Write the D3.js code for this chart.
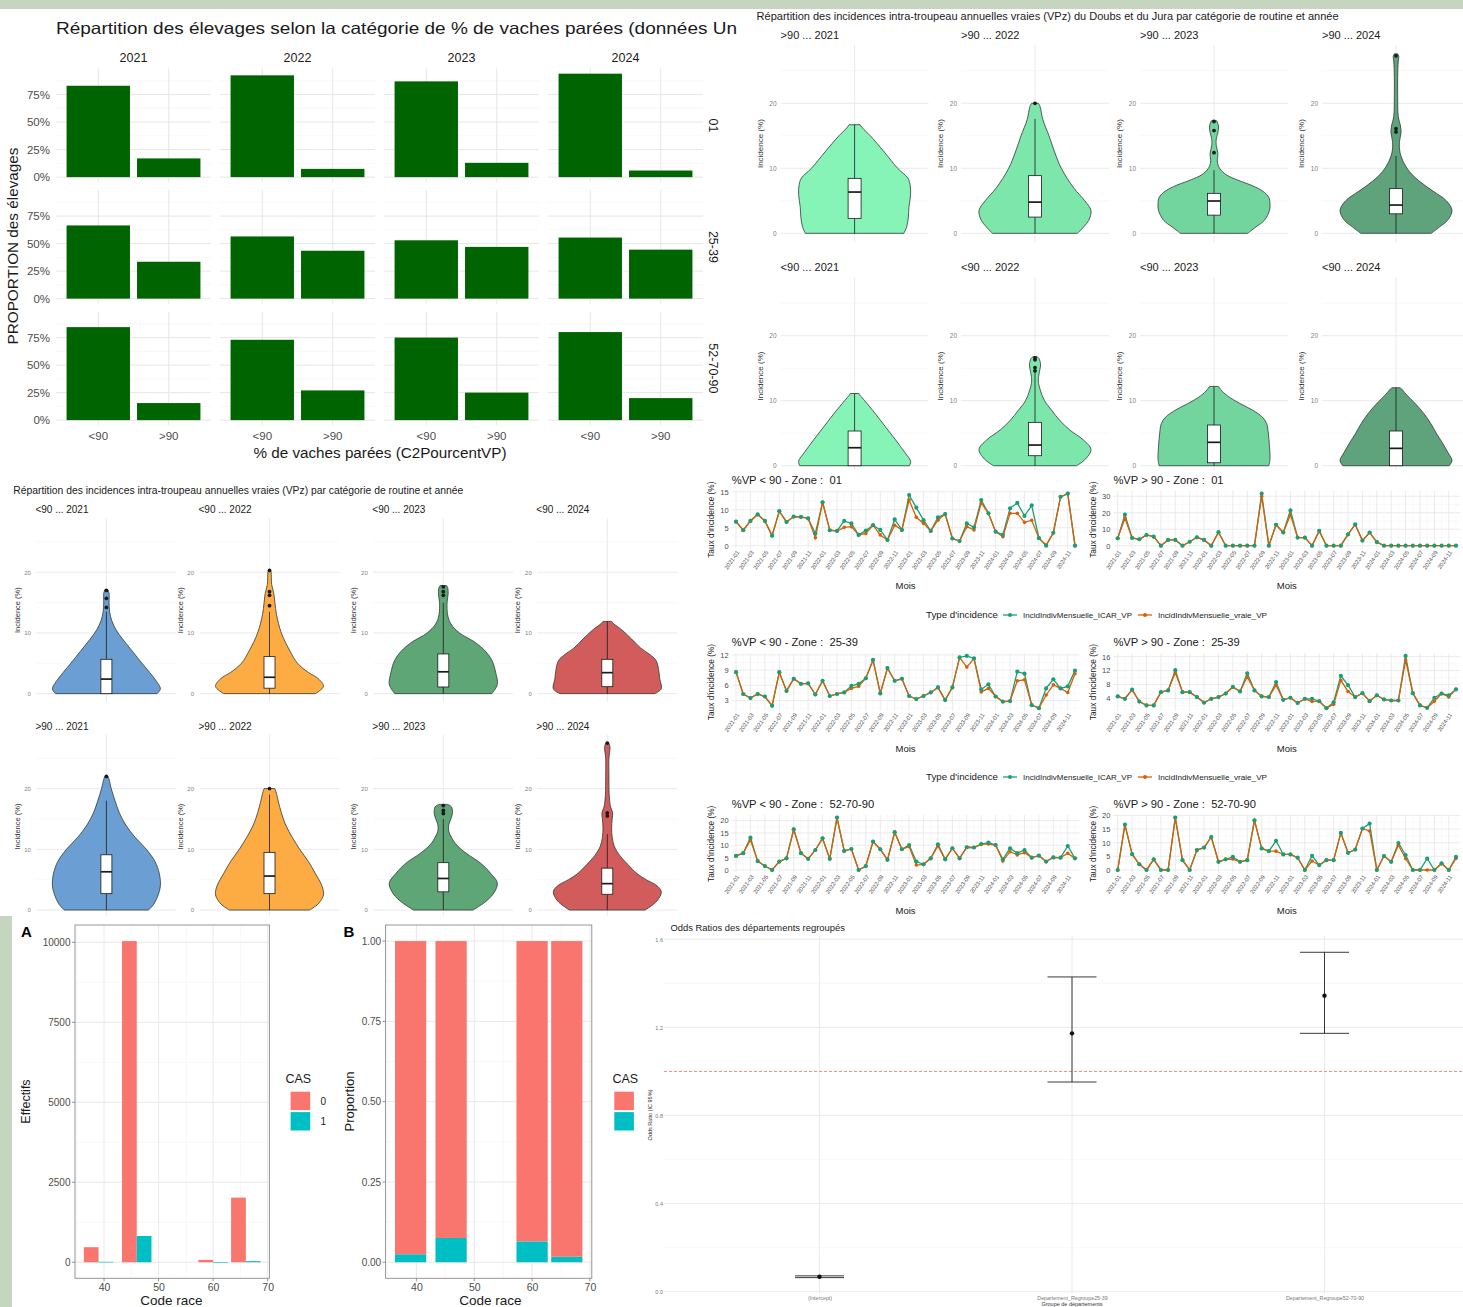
<!DOCTYPE html>
<html><head><meta charset="utf-8">
<script src="https://cdn.jsdelivr.net/npm/d3@7/dist/d3.min.js"></script>
<style>html,body{margin:0;padding:0;background:#fff;overflow:hidden}svg{display:block}text{white-space:pre}</style>
</head><body>
<svg id="c" width="1463" height="1307" xmlns="http://www.w3.org/2000/svg"></svg>
<script>
// ================= DATA =================
// --- Panel 1 : bar facets ---
const p1Title = "Répartition des élevages selon la catégorie de % de vaches parées (données Un";
const p1Years = ["2021","2022","2023","2024"];
const p1Cats = ["<90", ">90"];
const p1Zones = ["01","25-39","52-70-90"];
const p1Lt90_01 = [83, 92.5, 87, 94];
const p1Gt90_01 = [17, 7.5, 13, 6];
const p1Lt90_2539 = [66.5, 56.5, 53, 55.5];
const p1Gt90_2539 = [33.5, 43.5, 47, 44.5];
const p1Lt90_527090 = [84.5, 73, 75, 80];
const p1Gt90_527090 = [15.5, 27, 25, 20];
const p1Ticks = [0, 25, 50, 75];
const p1TickLabels = ["0%","25%","50%","75%"];
const p1Minor = [12.5, 37.5, 62.5, 87.5];

// --- Panel 2 : violins Doubs & Jura ---
const p2Title = "Répartition des incidences intra-troupeau annuelles vraies (VPz) du Doubs et du Jura par catégorie de routine et année";
const violinTicks = [0, 10, 20];
const violinMinor = [5, 15, 25];
// density profiles : [incidence value, relative half width]
const djGt90Dens = [
 [[0,0.88],[1,0.93],[2.5,0.96],[4,0.97],[6,1.0],[7.5,0.99],[8.5,0.95],[10,0.77],[12.5,0.53],[15,0.28],[16.2,0.14],[16.7,0.1]],
 [[0,0.76],[1,0.87],[2,0.96],[3.5,1.0],[5,0.89],[7,0.69],[10,0.47],[12.5,0.35],[15,0.25],[17.5,0.14],[19.5,0.09],[20,0.06]],
 [[0,0.6],[1,0.75],[2,0.9],[3.5,0.99],[4.5,1.0],[5.5,0.98],[6.3,0.9],[7.2,0.72],[8.2,0.42],[9,0.22],[10,0.1],[11,0.06],[12.3,0.07],[13.5,0.04],[14.5,0.04],[15.5,0.07],[16.5,0.08],[17.3,0.05]],
 [[0,0.63],[1,0.78],[2,0.92],[3.5,1.0],[5,0.9],[6.5,0.66],[8,0.42],[9.5,0.24],[11,0.13],[12.5,0.07],[14,0.06],[15.5,0.09],[16.5,0.08],[18,0.04],[21,0.03],[24,0.03],[26.5,0.04],[27.2,0.05],[27.6,0.03]]
];
const djLt90Dens = [
 [[0,0.98],[0.7,1.0],[2,0.9],[4,0.73],[6,0.55],[8,0.37],[10,0.18],[10.8,0.1],[11.1,0.08]],
 [[0,0.74],[1,0.9],[2.5,1.0],[4,0.86],[5.5,0.62],[7,0.44],[8.5,0.3],[10,0.17],[11.5,0.1],[13,0.06],[14.5,0.08],[15.5,0.1],[16.5,0.07],[16.8,0.03]],
 [[0,0.98],[1,1.0],[3,0.99],[5,0.97],[6.5,0.94],[7.5,0.86],[8.5,0.7],[9.5,0.48],[10.5,0.28],[11.5,0.14],[12.2,0.08]],
 [[0,0.95],[0.8,1.0],[2,0.93],[3.5,0.83],[5,0.72],[6.5,0.62],[8,0.5],[9.5,0.35],[11,0.18],[11.8,0.1],[12,0.07]]
];
// box stats : [lower whisker, q1, median, q3, upper whisker]
const djGt90Box = [[0,2.3,6.35,8.46,16.7],[0,2.5,4.8,8.87,17.6],[0,2.8,4.97,6.15,9.7],[0,3.0,4.35,6.87,11.9]];
const djGt90Out = [[],[20],[12.4,15.8,17.2],[15.6,16.1,27.3]];
const djLt90Box = [[0,0,2.77,5.34,11.1],[0,1.54,3.18,6.67,14.5],[0,0.46,3.6,6.26,12.2],[0,0,2.67,5.34,12]];
const djLt90Out = [[],[14.6,15.1,16.3,16.6],[],[]];

// --- Panel 3 : violins by routine ---
const p3Title = "Répartition des incidences intra-troupeau annuelles vraies (VPz) par catégorie de routine et année";
const rtLt90Dens = [
 [[0,0.94],[0.8,1.0],[2,0.93],[3.5,0.8],[5,0.66],[7,0.48],[9,0.3],[10.5,0.18],[12,0.1],[13.5,0.06],[15,0.05],[16.5,0.05],[17.1,0.03]],
 [[0,0.85],[1.2,1.0],[2.5,0.9],[3.5,0.72],[5,0.52],[7,0.38],[10,0.22],[13,0.13],[15,0.1],[16.5,0.08],[18,0.04],[20,0.03],[20.3,0.02]],
 [[0,0.9],[1.5,1.0],[3.5,0.97],[5.5,0.9],[7,0.78],[8.5,0.58],[10,0.3],[11.5,0.14],[13,0.08],[15,0.07],[16.5,0.09],[17.5,0.08],[17.8,0.06]],
 [[0,0.88],[0.8,1.0],[2.5,0.97],[4,0.95],[5.5,0.9],[6.5,0.78],[7.5,0.62],[9,0.45],[10.5,0.27],[11.5,0.12],[11.9,0.08]]
];
const rtGt90Dens = [
 [[0,0.78],[1,0.88],[2.5,0.96],[4,1.0],[6,0.98],[8,0.9],[10,0.74],[12,0.53],[14,0.36],[16,0.24],[18,0.16],[20,0.09],[21.5,0.05],[22,0.03]],
 [[0,0.74],[1,0.9],[2.5,1.0],[4,0.97],[6,0.85],[8,0.72],[10,0.56],[12,0.42],[14,0.3],[16,0.22],[18,0.16],[19.5,0.12],[20,0.1]],
 [[0,0.55],[1.5,0.8],[3,0.95],[4.5,1.0],[6,0.88],[7,0.78],[8,0.65],[9,0.48],[10,0.33],[11,0.22],[12,0.15],[13,0.1],[14,0.1],[15,0.14],[16,0.17],[17,0.15],[17.4,0.08]],
 [[0,0.7],[1.5,0.92],[3,1.0],[4,0.92],[5,0.72],[6,0.55],[7.5,0.38],[9,0.23],[10.5,0.13],[12,0.09],[13.5,0.08],[15,0.09],[16,0.1],[17,0.06],[19,0.035],[22,0.03],[25,0.03],[26.8,0.05],[27.5,0.03]]
];
const rtLt90Box = [[0,0,2.4,5.66,13.5],[0,0.9,2.7,6.1,13.5],[0,1.1,3.6,6.54,15.0],[0,1.15,3.46,5.66,11.9]];
const rtLt90Out = [[14.2,15.7,17.0],[14.5,16.2,16.8,20.3],[16.2,16.8,17.6],[]];
const rtGt90Box = [[0,2.7,6.3,9.1,18],[0,2.7,5.6,9.5,19],[0,3.0,5.2,7.8,15],[0,2.6,4.35,6.9,12.5]];
const rtGt90Out = [[22.0],[20.0],[15.9,16.4,17.2],[15.5,16.0,27.5]];

// --- Panel 4 : monthly incidence lines ---
const months = ["2021-01","2021-02","2021-03","2021-04","2021-05","2021-06","2021-07","2021-08","2021-09","2021-10","2021-11","2021-12",
 "2022-01","2022-02","2022-03","2022-04","2022-05","2022-06","2022-07","2022-08","2022-09","2022-10","2022-11","2022-12",
 "2023-01","2023-02","2023-03","2023-04","2023-05","2023-06","2023-07","2023-08","2023-09","2023-10","2023-11","2023-12",
 "2024-01","2024-02","2024-03","2024-04","2024-05","2024-06","2024-07","2024-08","2024-09","2024-10","2024-11","2024-12"];
const lcTitles = ["%VP < 90 - Zone :  01","%VP > 90 - Zone :  01","%VP < 90 - Zone :  25-39","%VP > 90 - Zone :  25-39","%VP < 90 - Zone :  52-70-90","%VP > 90 - Zone :  52-70-90"];
const lcTicks = [[0,5,10,15],[0,10,20,30],[3,6,9,12],[4,8,12,16],[0,5,10,15,20],[0,5,10,15,20]];
const seriesNames = ["IncidIndivMensuelle_ICAR_VP","IncidIndivMensuelle_vraie_VP"];
const icarLt90_01 = [6.7,4.3,6.9,8.7,6.9,2.8,9.6,6.6,8.1,8.0,7.6,3.4,12.1,4.3,4.1,6.9,6.2,3.0,4.2,5.7,4.4,1.6,7.3,4.4,14.1,10.6,7.1,4.1,7.9,8.8,2.0,1.3,6.2,5.1,12.7,9.0,3.9,3.0,10.4,11.9,8.3,11.2,2.1,0.0,3.6,13.6,14.5,0.0];
const vraieLt90_01 = [6.7,4.3,6.9,8.7,6.9,2.8,9.6,6.6,8.1,8.0,7.6,2.2,12.1,4.3,4.1,5.1,5.3,3.0,3.4,5.7,3.0,1.6,5.7,4.4,12.7,7.9,6.2,4.1,7.1,8.8,2.0,1.3,5.3,4.4,11.9,9.0,3.9,2.5,9.0,9.0,6.5,7.1,2.1,0.2,3.6,13.6,14.5,0.0];
const icarGt90_01 = [4.5,18.8,4.7,3.9,6.5,5.5,0,3.5,3.5,0,2.4,5.1,3.5,0,8.2,0,0,0,0,0,31.6,0,12.7,8.0,21.4,4.9,4.9,0,9.0,0,0,0,6.9,12.9,3.1,8.0,2.2,0,0,0,0,0,0,0,0,0,0,0];
const vraieGt90_01 = [4.5,16.7,4.7,3.9,6.5,5.5,0,3.5,3.5,0,2.4,5.1,3.5,0,8.2,0,0,0,0,0,30.0,0,12.7,8.0,18.8,4.9,4.9,0,9.0,0,0,0,6.9,12.9,3.1,8.0,2.2,0,0,0,0,0,0,0,0,0,0,0];
const icarLt90_2539 = [8.6,4.3,3.5,4.3,3.8,2.0,8.6,4.9,7.3,6.3,6.4,4.2,6.9,3.9,4.3,4.6,5.9,6.3,7.4,11.0,4.4,9.4,6.9,7.3,3.9,3.3,3.9,4.6,5.6,3.1,5.6,11.5,11.8,11.3,5.2,6.2,3.8,2.8,2.9,8.7,8.3,2.1,1.5,5.4,7.2,5.4,5.8,8.9];
const vraieLt90_2539 = [8.6,4.3,3.5,4.3,3.8,2.0,8.6,4.9,7.3,6.3,6.4,4.2,6.9,3.9,4.3,4.6,5.4,5.8,7.4,11.0,4.4,9.4,6.9,7.3,3.9,3.3,3.9,4.6,5.6,3.1,5.6,11.5,9.6,11.3,4.7,5.4,3.8,2.8,2.9,6.9,7.1,2.1,1.5,4.1,6.1,5.4,4.6,8.3];
const icarGt90_2539 = [4.6,3.9,6.5,3.1,2.0,2.0,5.8,6.3,12.1,5.8,5.8,4.4,2.8,3.9,4.4,5.4,7.3,6.0,11.2,6.3,4.6,4.4,8.7,3.6,4.2,2.7,3.9,3.9,3.2,1.2,2.9,10.5,7.8,4.4,5.5,3.2,4.9,3.7,3.4,3.4,16.2,5.5,2.0,1.3,4.2,5.4,4.9,6.6];
const vraieGt90_2539 = [4.6,3.9,6.5,3.1,2.0,2.0,5.8,6.3,11.4,5.8,5.8,4.4,2.8,3.9,4.4,5.4,7.3,6.0,10.2,6.3,4.6,4.4,7.8,3.6,4.2,2.7,3.9,3.1,3.2,1.2,2.3,9.2,6.0,4.4,5.5,3.2,4.9,3.7,3.4,3.4,15.0,5.5,2.0,1.3,3.2,5.4,4.4,6.6];
const icarLt90_527090 = [5.7,6.8,13.1,3.6,1.6,0,3.4,4.7,16.5,6.8,4.5,8.1,12.8,4.5,21.2,7.7,8.5,0,1.6,11.5,8.4,4.1,15.3,8.4,10.1,3.4,2.3,4.7,10.4,4.3,8.8,4.7,9.2,9.1,10.5,11.1,10.1,4.3,8.8,6.8,8.1,5.0,5.8,3.4,5.1,5.0,9.7,4.7];
const vraieLt90_527090 = [5.7,6.8,12.2,3.6,1.6,0,3.4,4.7,16.5,6.8,4.5,8.1,12.8,4.5,21.2,7.7,8.5,0,1.6,11.5,8.4,4.1,15.3,8.4,9.5,2.0,2.3,4.7,9.7,4.3,8.8,4.7,9.2,9.1,10.5,10.5,10.1,3.6,7.4,6.1,7.0,5.0,5.8,3.4,5.1,5.0,6.8,4.7];
const icarGt90_527090 = [0,16.6,5.8,2.1,0,3.9,0,0,19.2,3.6,0,7.3,8.2,12.1,3.0,3.9,4.8,3.0,3.6,18.2,7.9,6.9,10.7,5.7,5.7,4.5,0,5.2,1.8,3.6,3.6,13.6,6.3,7.5,15.2,17.0,0,5.1,3.0,9.9,5.5,0,0,4.2,0,2.4,0,4.8];
const vraieGt90_527090 = [0,16.6,5.8,2.1,0,3.9,0,0,19.2,3.6,0,7.3,8.2,12.1,3.0,3.9,4.0,3.0,3.6,18.2,7.9,6.9,6.9,5.7,5.7,4.5,0,3.3,1.8,3.6,3.6,13.6,6.3,7.5,15.2,14.3,0,5.1,3.0,9.1,4.2,0,0,0,0,2.4,0,4.2];

// --- Panel 5 : counts by breed code ---
const raceCodes = [39, 46, 60, 66];
const cas0 = [470, 10040, 72, 2020];
const cas1 = [12, 820, 5, 35];
const casLevels = ["0","1"];
const effTicks = [0, 2500, 5000, 7500, 10000];
const propTicks = [0, 0.25, 0.5, 0.75, 1];
const codeTicks = [40, 50, 60, 70];

// --- Panel 6 : odds ratios ---
const orTitle = "Odds Ratios des départements regroupés";
const orTerms = ["(Intercept)","Departement_Regroupe25-39","Departement_Regroupe52-70-90"];
const orEst = [0.068, 1.173, 1.344];
const orLow = [0.064, 0.952, 1.173];
const orHigh = [0.072, 1.429, 1.541];
const orTicks = [0, 0.4, 0.8, 1.2, 1.6];
const orTickLabels = ["0.0","0.4","0.8","1.2","1.6"];

// ================= DRAWING =================
const FONT = '"Liberation Sans", Arial, Helvetica, sans-serif';
const W = 1463, H = 1307;
const svg = d3.select('#c');
svg.append('rect').attr('width', W).attr('height', H).attr('fill', '#fff');
const defs = svg.append('defs');

function panel(id, x, y, w, h) {
  defs.append('clipPath').attr('id', id).append('rect').attr('x', x).attr('y', y).attr('width', w).attr('height', h);
  const g = svg.append('g').attr('clip-path', `url(#${id})`);
  g.append('rect').attr('x', x).attr('y', y).attr('width', w).attr('height', h).attr('fill', '#fff');
  return g;
}
function T(g, x, y, s, o = {}) {
  const t = g.append('text').attr('x', x).attr('y', y).text(s)
    .attr('font-size', o.size || 10).attr('fill', o.fill || '#1a1a1a')
    .attr('text-anchor', o.anchor || 'start').attr('font-family', FONT);
  if (o.dy) t.attr('dy', o.dy);
  if (o.weight) t.attr('font-weight', o.weight);
  if (o.rot != null) t.attr('transform', `rotate(${o.rot},${x},${y})`);
  if (o.len) t.attr('textLength', o.len).attr('lengthAdjust', 'spacingAndGlyphs');
  return t;
}
function L(g, x1, y1, x2, y2, c, w, dash) {
  const l = g.append('line').attr('x1', x1).attr('y1', y1).attr('x2', x2).attr('y2', y2)
    .attr('stroke', c).attr('stroke-width', w);
  if (dash) l.attr('stroke-dasharray', dash);
  return l;
}
function yLabels(g, y, x, ticks, fmt, size, fill) {
  const a = g.append('g').attr('transform', `translate(${x},0)`)
    .call(d3.axisLeft(y).tickValues(ticks).tickFormat(fmt).tickSize(0).tickPadding(0));
  a.select('.domain').remove();
  a.selectAll('text').attr('font-size', size).attr('fill', fill).attr('font-family', FONT);
  return a;
}
function xLabels(g, x, y0, ticks, fmt, size, fill) {
  const a = g.append('g').attr('transform', `translate(0,${y0})`)
    .call(d3.axisBottom(x).tickValues(ticks).tickFormat(fmt).tickSize(0).tickPadding(0));
  a.select('.domain').remove();
  a.selectAll('text').attr('font-size', size).attr('fill', fill).attr('font-family', FONT);
  return a;
}

// ---------- Panel 1 ----------
(function () {
  const g = panel('cp1', 0, 9, 740, 457);
  const left = [56, 220, 384, 548], fw = 155, rowTop = [68.5, 190, 311.5], rowH = 113.8;
  const rows = [[p1Lt90_01, p1Gt90_01], [p1Lt90_2539, p1Gt90_2539], [p1Lt90_527090, p1Gt90_527090]];
  const mx = d3.max(rows.flat(2)), pad = mx * 0.05;
  T(g, 56, 34, p1Title, { size: 16.5, fill: '#1a1a1a', len: 681 });
  p1Years.forEach((yr, c) => T(g, left[c] + fw / 2, 61.5, yr, { size: 12.5, anchor: 'middle' }));
  rows.forEach((vals, r) => {
    const y = d3.scaleLinear().domain([-pad, mx + pad]).range([rowTop[r] + rowH, rowTop[r]]);
    p1Years.forEach((yr, c) => {
      const x = d3.scaleBand().domain(p1Cats).range([left[c], left[c] + fw]).paddingInner(0.1).paddingOuter(0.15);
      p1Minor.forEach(v => L(g, left[c], y(v), left[c] + fw, y(v), '#f3f3f3', 0.6));
      p1Ticks.forEach(v => L(g, left[c], y(v), left[c] + fw, y(v), '#e6e6e6', 1));
      p1Cats.forEach(k => L(g, x(k) + x.bandwidth() / 2, rowTop[r], x(k) + x.bandwidth() / 2, rowTop[r] + rowH, '#e6e6e6', 1));
      g.selectAll(null).data(p1Cats).join('rect')
        .attr('x', k => x(k)).attr('width', x.bandwidth())
        .attr('y', (k, i) => y(vals[i][c])).attr('height', (k, i) => y(0) - y(vals[i][c]))
        .attr('fill', '#006400');
      if (r === 2) xLabels(g, x, 432, p1Cats, d => d, 11.5, '#4d4d4d');
    });
    yLabels(g, y, 50, p1Ticks, (d, i) => p1TickLabels[i], 11.5, '#4d4d4d');
    T(g, 713, rowTop[r] + rowH / 2, p1Zones[r], { size: 12.5, anchor: 'middle', rot: 90, dy: '0.35em' });
  });
  T(g, 380, 458, "% de vaches parées (C2PourcentVP)", { size: 15.5, anchor: 'middle', len: 253 });
  T(g, 18, 246, "PROPORTION des élevages", { size: 15, anchor: 'middle', rot: -90, len: 197 });
})();

// ---------- Violin helper ----------
function violin(g, cx, y, halfW, dens, box, outs, fill, boxW) {
  const area = d3.area().y(d => y(d[0])).x0(d => cx - d[1] * halfW).x1(d => cx + d[1] * halfW)
    .curve(d3.curveCatmullRom.alpha(0.5));
  g.append('path').attr('d', area(dens)).attr('fill', fill).attr('stroke', '#2e3a33').attr('stroke-width', 0.8);
  const [lo, q1, md, q3, hi] = box;
  L(g, cx, y(lo), cx, y(q1), '#1a1a1a', 0.8);
  L(g, cx, y(q3), cx, y(hi), '#1a1a1a', 0.8);
  g.append('rect').attr('x', cx - boxW / 2).attr('width', boxW).attr('y', y(q3)).attr('height', Math.max(0.5, y(q1) - y(q3)))
    .attr('fill', '#fff').attr('stroke', '#1a1a1a').attr('stroke-width', 0.8);
  L(g, cx - boxW / 2, y(md), cx + boxW / 2, y(md), '#1a1a1a', 1.7);
  g.selectAll(null).data(outs).join('circle').attr('cx', cx).attr('cy', d => y(d)).attr('r', 1.9).attr('fill', '#1a1a1a');
}

// ---------- Panel 2 ----------
(function () {
  const g = panel('cp2', 740, 9, 723, 461);
  T(g, 756.6, 19.5, p2Title, { size: 10.5, len: 582 });
  const left = [780.6, 961, 1140, 1322], fw = 148, halfW = 56, boxW = 13;
  const rowTop = [44.9, 277.3], rowBot = [242.3, 474.7], titleY = [39, 271];
  const colors = ["#86f4b7", "#7de6aa", "#72d59d", "#5ea37b"];
  const rows = [
    { lab: '>90', dens: djGt90Dens, box: djGt90Box, out: djGt90Out },
    { lab: '<90', dens: djLt90Dens, box: djLt90Box, out: djLt90Out }];
  const mx = d3.max([...djGt90Dens.flat().map(d => d[0]), ...djLt90Dens.flat().map(d => d[0]), ...djGt90Out.flat(), ...djLt90Out.flat()]);
  const pad = mx * 0.05;
  rows.forEach((R, r) => {
    const y = d3.scaleLinear().domain([-pad, mx + pad]).range([rowBot[r], rowTop[r]]);
    p1Years.forEach((yr, c) => {
      const cx = left[c] + fw / 2;
      violinMinor.forEach(v => L(g, left[c], y(v), left[c] + fw, y(v), '#f3f3f3', 0.6));
      violinTicks.forEach(v => L(g, left[c], y(v), left[c] + fw, y(v), '#e8e8e8', 0.9));
      L(g, cx, rowTop[r], cx, rowBot[r], '#e8e8e8', 0.9);
      violin(g, cx, y, halfW, R.dens[c], R.box[c], R.out[c], colors[c], boxW);
      yLabels(g, y, left[c] - 4, violinTicks, d3.format('d'), 6.5, '#808080');
      T(g, left[c] - 20.5, (rowTop[r] + rowBot[r]) / 2, 'Incidence (%)', { size: 8, anchor: 'middle', rot: -90, dy: '0.35em', fill: '#333' });
      T(g, left[c], titleY[r], `${R.lab} ... ${yr}`, { size: 11 });
    });
  });
})();

// ---------- Panel 3 ----------
(function () {
  const g = panel('cp3', 0, 475, 695, 441);
  T(g, 13.3, 494, p3Title, { size: 10, len: 450 });
  const centers = [106.4, 269.5, 443.3, 607.3], hw = 70, halfW = 54, boxW = 11;
  const rowTop = [518.4, 734.7], rowBot = [702, 918.4], titleY = [513, 729.5];
  const colors = ["#6b9fd3", "#fdab43", "#5fa677", "#d25c5c"];
  const rows = [
    { lab: '<90', dens: rtLt90Dens, box: rtLt90Box, out: rtLt90Out },
    { lab: '>90', dens: rtGt90Dens, box: rtGt90Box, out: rtGt90Out }];
  const mx = d3.max([...rtLt90Dens.flat().map(d => d[0]), ...rtGt90Dens.flat().map(d => d[0]), ...rtLt90Out.flat(), ...rtGt90Out.flat()]);
  const pad = mx * 0.05;
  rows.forEach((R, r) => {
    const y = d3.scaleLinear().domain([-pad, mx + pad]).range([rowBot[r], rowTop[r]]);
    p1Years.forEach((yr, c) => {
      const cx = centers[c], l = cx - hw, rr = cx + hw;
      violinMinor.forEach(v => L(g, l, y(v), rr, y(v), '#f3f3f3', 0.6));
      violinTicks.forEach(v => L(g, l, y(v), rr, y(v), '#e8e8e8', 0.9));
      L(g, cx, rowTop[r], cx, rowBot[r], '#e8e8e8', 0.9);
      violin(g, cx, y, halfW, R.dens[c], R.box[c], R.out[c], colors[c], boxW);
      yLabels(g, y, cx - 75.5, violinTicks, d3.format('d'), 6, '#808080');
      T(g, cx - 89.5, (rowTop[r] + rowBot[r]) / 2, 'Incidence (%)', { size: 7.5, anchor: 'middle', rot: -90, dy: '0.35em', fill: '#333' });
      T(g, cx - 71, titleY[r], `${R.lab} ... ${yr}`, { size: 10 });
    });
  });
})();

// ---------- Panel 4 ----------
(function () {
  const g = panel('cp4', 695, 470, 768, 446);
  const colX = [[731.7, 1079.3], [1113.4, 1460.3]];
  const rowY = [[491, 548.3], [653.3, 710.8], [815, 872.6]];
  const GREEN = '#1b9e77', ORANGE = '#d95f02';
  const series = [[icarLt90_01, vraieLt90_01], [icarGt90_01, vraieGt90_01], [icarLt90_2539, vraieLt90_2539],
    [icarGt90_2539, vraieGt90_2539], [icarLt90_527090, vraieLt90_527090], [icarGt90_527090, vraieGt90_527090]];
  series.forEach(([icar, vraie], k) => {
    const r = Math.floor(k / 2), c = k % 2;
    const [x0, x1] = colX[c], [top, bot] = rowY[r];
    const x = d3.scalePoint().domain(months).range([x0, x1]).padding(0.6);
    const ext = d3.extent(icar.concat(vraie)), pd = (ext[1] - ext[0]) * 0.05;
    const y = d3.scaleLinear().domain([ext[0] - pd, ext[1] + pd]).range([bot, top]);
    const tk = lcTicks[k], st = tk[1] - tk[0];
    const minor = [tk[0] - st / 2, ...tk.map(v => v + st / 2)].filter(v => v >= y.domain()[0] && v <= y.domain()[1]);
    minor.forEach(v => L(g, x0, y(v), x1, y(v), '#f2f2f2', 0.5));
    tk.forEach(v => L(g, x0, y(v), x1, y(v), '#e6e6e6', 0.8));
    months.forEach((m, i) => L(g, x(m), top, x(m), bot, i % 2 ? '#f2f2f2' : '#e6e6e6', i % 2 ? 0.5 : 0.8));
    const line = d3.line().x((d, i) => x(months[i])).y(d => y(d));
    g.append('path').attr('d', line(icar)).attr('fill', 'none').attr('stroke', GREEN).attr('stroke-width', 1.3);
    g.append('path').attr('d', line(vraie)).attr('fill', 'none').attr('stroke', ORANGE).attr('stroke-width', 1.3);
    g.selectAll(null).data(vraie).join('circle').attr('cx', (d, i) => x(months[i])).attr('cy', d => y(d)).attr('r', 1.8).attr('fill', ORANGE);
    g.selectAll(null).data(icar).join('circle').attr('cx', (d, i) => x(months[i])).attr('cy', d => y(d)).attr('r', 2.1).attr('fill', GREEN);
    T(g, x0, top - 7, lcTitles[k], { size: 11.2 });
    yLabels(g, y, x0 - 3, tk, d3.format('d'), 7.5, '#4d4d4d');
    T(g, x0 - 20.5, (top + bot) / 2, "Taux d'incidence (%)", { size: 8.3, anchor: 'middle', rot: -90, dy: '0.35em' });
    months.forEach((m, i) => {
      if (i % 2) return;
      g.append('text').attr('transform', `translate(${x(m) + 2},${bot + 3}) rotate(-55)`)
        .attr('text-anchor', 'end').attr('dy', '0.35em').attr('font-size', 5.8).attr('fill', '#4d4d4d')
        .attr('font-family', FONT).text(m);
    });
    T(g, (x0 + x1) / 2, bot + 41, 'Mois', { size: 9.5, anchor: 'middle' });
  });
  [615, 777].forEach(ly => {
    T(g, 926, ly, "Type d'incidence", { size: 9.3, dy: '0.35em', len: 72 });
    [[1003, GREEN, 1023], [1138, ORANGE, 1158]].forEach(([kx, col, tx], j) => {
      L(g, kx, ly, kx + 14, ly, col, 1.3);
      g.append('circle').attr('cx', kx + 7).attr('cy', ly).attr('r', 2).attr('fill', col);
      T(g, tx, ly, seriesNames[j], { size: 7.2, dy: '0.35em', len: 109 });
    });
  });
})();

// ---------- Panel 5 ----------
(function () {
  const g = panel('cp5', 12, 916, 628, 391);
  const RED = '#f8766d', TEAL = '#00bfc4';
  const res = d3.min(d3.pairs(raceCodes).map(([a, b]) => b - a)), bw = 0.9 * res;
  const dlo = d3.min(raceCodes) - bw / 2, dhi = d3.max(raceCodes) + bw / 2, dp = (dhi - dlo) * 0.05;
  const top = 925, bot = 1278.3;
  function frame(xl, xr, x, y, yTicks, yFmt) {
    const yMinor = d3.pairs(yTicks).map(([a, b]) => (a + b) / 2);
    const st = codeTicks[1] - codeTicks[0];
    const xMinor = [codeTicks[0] - st / 2, ...codeTicks.map(v => v + st / 2)].filter(v => v >= x.domain()[0] && v <= x.domain()[1]);
    yMinor.forEach(v => L(g, xl, y(v), xr, y(v), '#f3f3f3', 0.6));
    xMinor.forEach(v => L(g, x(v), top, x(v), bot, '#f3f3f3', 0.6));
    yTicks.forEach(v => L(g, xl, y(v), xr, y(v), '#e6e6e6', 0.9));
    codeTicks.forEach(v => L(g, x(v), top, x(v), bot, '#e6e6e6', 0.9));
    yTicks.forEach(v => L(g, xl - 3, y(v), xl, y(v), '#444', 0.6));
    codeTicks.forEach(v => L(g, x(v), bot, x(v), bot + 3, '#444', 0.6));
    yLabels(g, y, xl - 4.5, yTicks, yFmt, 10, '#4d4d4d');
    xLabels(g, x, bot + 5, codeTicks, d3.format('d'), 10.5, '#4d4d4d');
  }
  function border(xl, xr) {
    g.append('rect').attr('x', xl).attr('y', top).attr('width', xr - xl).attr('height', bot - top)
      .attr('fill', 'none').attr('stroke', '#8c8c8c').attr('stroke-width', 0.9);
  }
  // A
  const xA = d3.scaleLinear().domain([dlo - dp, dhi + dp]).range([75, 269.4]);
  const mA = d3.max(cas0.concat(cas1));
  const yA = d3.scaleLinear().domain([-mA * 0.05, mA * 1.05]).range([bot, top]);
  frame(75, 269.4, xA, yA, effTicks, d3.format('d'));
  g.selectAll(null).data(raceCodes).join('rect').attr('x', d => xA(d - bw / 2)).attr('width', d => xA(d) - xA(d - bw / 2))
    .attr('y', (d, i) => yA(cas0[i])).attr('height', (d, i) => yA(0) - yA(cas0[i])).attr('fill', RED);
  g.selectAll(null).data(raceCodes).join('rect').attr('x', d => xA(d)).attr('width', d => xA(d + bw / 2) - xA(d))
    .attr('y', (d, i) => yA(cas1[i])).attr('height', (d, i) => Math.max(0.6, yA(0) - yA(cas1[i]))).attr('fill', TEAL);
  border(75, 269.4);
  T(g, 26.5, 937, 'A', { size: 15, anchor: 'middle', weight: 'bold', fill: '#000' });
  T(g, 25.3, 1101.5, 'Effectifs', { size: 12.5, anchor: 'middle', rot: -90, dy: '0.35em' });
  T(g, 171.4, 1304.5, 'Code race', { size: 13.5, anchor: 'middle' });
  // B
  const xB = d3.scaleLinear().domain([dlo - dp, dhi + dp]).range([385.6, 591.8]);
  const yB = d3.scaleLinear().domain([-0.05, 1.05]).range([bot, top]);
  frame(385.6, 591.8, xB, yB, propTicks, d3.format('.2f'));
  const rowsB = raceCodes.map((c, i) => ({ code: c, '1': cas1[i] / (cas0[i] + cas1[i]), '0': cas0[i] / (cas0[i] + cas1[i]) }));
  const stack = d3.stack().keys(['1', '0'])(rowsB);
  stack.forEach(s => {
    g.selectAll(null).data(s).join('rect').attr('x', d => xB(d.data.code - bw / 2)).attr('width', d => xB(d.data.code + bw / 2) - xB(d.data.code - bw / 2))
      .attr('y', d => yB(d[1])).attr('height', d => yB(d[0]) - yB(d[1])).attr('fill', s.key === '0' ? RED : TEAL);
  });
  border(385.6, 591.8);
  T(g, 349, 937, 'B', { size: 15, anchor: 'middle', weight: 'bold', fill: '#000' });
  T(g, 349, 1101.5, 'Proportion', { size: 13, anchor: 'middle', rot: -90, dy: '0.35em' });
  T(g, 490.4, 1304.5, 'Code race', { size: 13.5, anchor: 'middle' });
  // legends
  [[285.5, 290.6, 320.5], [612.5, 614.3, 644]].forEach(([tx, kx, lx]) => {
    T(g, tx, 1083, 'CAS', { size: 12.5 });
    casLevels.forEach((lv, j) => {
      g.append('rect').attr('x', kx).attr('y', 1091.7 + j * 20.4).attr('width', 19.6).attr('height', 18.4).attr('fill', j ? TEAL : RED);
      T(g, lx, 1101 + j * 20.4, lv, { size: 10, dy: '0.35em' });
    });
  });
})();

// ---------- Panel 6 ----------
(function () {
  const g = panel('cp6', 640, 915, 823, 392);
  T(g, 670.4, 931, orTitle, { size: 9.5, len: 174.5 });
  const x = d3.scalePoint().domain(orTerms).range([668, 1476]).padding(0.6);
  const lo = d3.min(orLow), hi = d3.max(orHigh), pd = (hi - lo) * 0.05;
  const y = d3.scaleLinear().domain([lo - pd, hi + pd]).range([1293.9, 936]);
  d3.pairs(orTicks).map(([a, b]) => (a + b) / 2).forEach(v => L(g, 664, y(v), 1463, y(v), '#f3f3f3', 0.6));
  orTicks.forEach(v => L(g, 664, y(v), 1463, y(v), '#e8e8e8', 0.9));
  orTerms.forEach(t => L(g, x(t), 936, x(t), 1293.9, '#e8e8e8', 0.9));
  L(g, 664, y(1), 1463, y(1), '#f28b8b', 1, '3,2');
  orTerms.forEach((t, i) => {
    const cx = x(t);
    L(g, cx, y(orLow[i]), cx, y(orHigh[i]), '#222', 0.9);
    L(g, cx - 24.5, y(orLow[i]), cx + 24.5, y(orLow[i]), '#222', 0.9);
    L(g, cx - 24.5, y(orHigh[i]), cx + 24.5, y(orHigh[i]), '#222', 0.9);
    g.append('circle').attr('cx', cx).attr('cy', y(orEst[i])).attr('r', 2.2).attr('fill', '#111');
  });
  yLabels(g, y, 663, orTicks, (d, i) => orTickLabels[i], 5.5, '#777');
  xLabels(g, x, 1296, orTerms, d => d, 5.3, '#777');
  T(g, x(orTerms[1]), 1306, 'Groupe de départements', { size: 5.5, anchor: 'middle', fill: '#333' });
  T(g, 650, 1115, 'Odds Ratio (IC 95%)', { size: 5.5, anchor: 'middle', rot: -90, dy: '0.35em', fill: '#333' });
})();

// ---------- background strips ----------
svg.append('rect').attr('x', 0).attr('y', 0).attr('width', W).attr('height', 9).attr('fill', '#c6d5c0');
svg.append('rect').attr('x', 0).attr('y', 916).attr('width', 12).attr('height', H - 916).attr('fill', '#c6d5c0');
</script>
</body></html>
